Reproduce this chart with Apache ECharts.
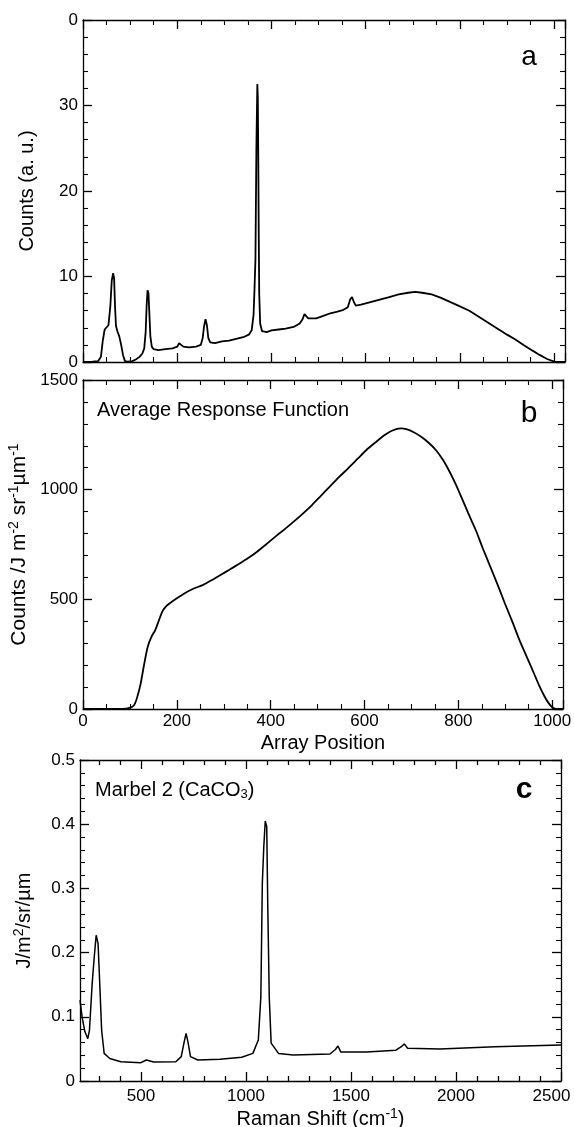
<!DOCTYPE html>
<html>
<head>
<meta charset="utf-8">
<script src="https://cdn.jsdelivr.net/npm/echarts@6/dist/echarts.min.js"></script>
<style>
html, body { margin: 0; padding: 0; background: #fff; }
#chart { width: 574px; height: 1127px; }
</style>
</head>
<body>
<div id="chart"></div>
<script>
// panel a: raw counts along the detector array
const posA = [0, 20, 32, 38, 42, 46, 50, 54, 58, 61, 64, 66, 68, 70, 73, 77, 81, 85, 89, 95,
  105, 112, 120, 126, 130, 133, 135, 137, 139, 141, 143, 146, 150, 160, 175, 190, 200, 204, 208, 213,
  225, 240, 250, 254, 257, 260, 263, 266, 270, 280, 295, 310, 325, 340, 352, 358, 362, 364, 366, 368,
  370, 371, 372, 373, 374, 376, 380, 390, 400, 415, 430, 447, 460, 466, 470, 474, 478, 482, 495, 510,
  525, 540, 553, 562, 567, 571, 575, 579, 590, 610, 630, 650, 670, 690, 705, 720, 740, 760, 780, 800,
  820, 840, 860, 880, 900, 916, 935, 955, 970, 985, 1000, 1010, 1023];
const countsA = [0, 0.05, 0.1, 0.6, 2.5, 3.8, 4.0, 4.3, 6.5, 9.5, 10.4, 9.8, 6.5, 4.2, 3.6, 3.0, 2.0, 0.8, 0.1, 0.05,
  0.1, 0.3, 0.6, 1.0, 1.6, 3.5, 6.5, 8.4, 8.0, 5.5, 3.0, 1.8, 1.5, 1.4, 1.5, 1.6, 1.8, 2.2, 2.1, 1.8,
  1.7, 1.8, 2.0, 2.8, 4.2, 5.0, 4.3, 2.8, 2.3, 2.2, 2.4, 2.5, 2.7, 2.9, 3.2, 3.7, 5.5, 8.5, 12, 25,
  32.5, 31, 24, 15, 8, 4.5, 3.6, 3.5, 3.7, 3.8, 3.9, 4.1, 4.5, 5.0, 5.6, 5.7, 5.1, 4.9, 5.1, 5.4,
  5.7, 5.9, 6.1, 6.4, 7.3, 7.6, 7.0, 6.6, 6.7, 7.0, 7.3, 7.6, 7.9, 8.1, 8.2, 8.1, 7.9, 7.5, 7.0, 6.5,
  6.0, 5.3, 4.6, 3.9, 3.2, 2.7, 2.0, 1.3, 0.8, 0.35, 0.05, 0.02, 0];

// panel b: average response function
const posB = [0, 50, 92, 105, 111, 117, 123, 130, 138, 146, 154, 162, 169, 177, 185, 200, 216, 235, 255, 275,
  293, 312, 332, 352, 371, 390, 410, 430, 449, 468, 488, 507, 526, 545, 565, 585, 604, 623, 643, 655,
  666, 678, 689, 705, 720, 736, 752, 768, 783, 795, 806, 821, 837, 852, 868, 884, 899, 915, 930, 946,
  961, 972, 984, 992, 1000, 1008, 1023];
const respB = [0, 0, 2, 10, 26, 65, 117, 200, 284, 330, 360, 405, 444, 468, 482, 505, 527, 548, 565, 588,
  611, 635, 661, 688, 717, 750, 786, 820, 854, 890, 930, 972, 1014, 1056, 1097, 1140, 1181, 1215, 1249, 1265,
  1275, 1279, 1276, 1262, 1242, 1215, 1181, 1133, 1075, 1022, 968, 893, 816, 733, 649, 565, 482, 398, 315, 237,
  163, 108, 56, 28, 8, 1, 0];

// panel c: calibrated marble spectrum
const shiftC = [210, 220, 233, 247, 255, 268, 278, 287, 296, 304, 313, 325, 352, 404, 500, 526, 561, 666, 692, 706,
  715, 724, 736, 771, 876, 980, 1033, 1059, 1071, 1078, 1085, 1092, 1099, 1104, 1111, 1120, 1155, 1225, 1400, 1426,
  1438, 1452, 1574, 1714, 1740, 1754, 1770, 1924, 2186, 2500];
const radC = [0.126, 0.1, 0.077, 0.066, 0.079, 0.152, 0.194, 0.227, 0.214, 0.152, 0.079, 0.043, 0.035, 0.030, 0.0286, 0.0327, 0.0296, 0.030, 0.038, 0.061,
  0.074, 0.061, 0.038, 0.0327, 0.034, 0.037, 0.043, 0.064, 0.131, 0.308, 0.365, 0.405, 0.396, 0.272, 0.131, 0.059, 0.043, 0.0405, 0.042, 0.049,
  0.0545, 0.045, 0.045, 0.048, 0.0535, 0.0576, 0.051, 0.050, 0.0535, 0.056];

const majorTicksC = [500, 1000, 1500, 2000, 2500];
const minorTicksC = [300, 400, 600, 700, 800, 900, 1100, 1200, 1300, 1400, 1600, 1700, 1800, 1900, 2100, 2200, 2300, 2400];

const FONT = 'Liberation Sans, Arial, Helvetica, sans-serif';
const INK = '#000';

function zip(xs, ys) {
  return xs.map((x, i) => [x, ys[i]]);
}

const plain = (v) => String(+v.toFixed(2));

function axis(extra) {
  const base = {
    type: 'value',
    axisLine: { show: true, onZero: false, lineStyle: { color: INK, width: 1.3 } },
    axisTick: { show: true, inside: true, length: 9, lineStyle: { color: INK, width: 1.3 } },
    minorTick: { show: true, length: 5, lineStyle: { color: INK, width: 1.1 } },
    splitLine: { show: false },
    minorSplitLine: { show: false },
    axisLabel: { show: false, color: INK, fontSize: 17, fontFamily: FONT, margin: 5, formatter: plain },
    nameTextStyle: { color: INK, fontSize: 20, fontFamily: FONT },
  };
  const out = Object.assign({}, base, extra);
  ['axisLine', 'axisTick', 'minorTick', 'axisLabel', 'nameTextStyle'].forEach((k) => {
    if (extra[k]) out[k] = Object.assign({}, base[k], extra[k]);
  });
  return out;
}

const sup = { fontSize: 14, fontFamily: FONT, color: INK, padding: [0, 0, 10, 0] };
const txt = { fontSize: 20, fontFamily: FONT, color: INK };

const chart = echarts.init(document.getElementById('chart'), null, { renderer: 'canvas' });

const option = {
  backgroundColor: '#fff',
  animation: false,
  grid: [
    { left: 83, top: 20, width: 482, height: 342, outerBoundsMode: 'none' },
    { left: 83, top: 380, width: 480, height: 329, outerBoundsMode: 'none' },
    { left: 80, top: 760, width: 481, height: 321, outerBoundsMode: 'none' },
  ],
  xAxis: [
    axis({ gridIndex: 0, position: 'bottom', min: 0, max: 1023, interval: 200, minorTick: { splitNumber: 4 } }),
    axis({ gridIndex: 0, position: 'top', min: 0, max: 1023, interval: 200, minorTick: { splitNumber: 4 } }),
    axis({
      gridIndex: 1, position: 'bottom', min: 0, max: 1023, interval: 200, minorTick: { splitNumber: 4 },
      axisLabel: { show: true, showMaxLabel: false, margin: 4 },
      name: 'Array Position', nameLocation: 'middle', nameGap: 24,
    }),
    axis({ gridIndex: 1, position: 'top', min: 0, max: 1023, interval: 200, minorTick: { splitNumber: 4 } }),
    axis({
      gridIndex: 2, position: 'bottom', min: 210, max: 2500,
      minorTick: { show: false },
      axisTick: { customValues: majorTicksC },
      axisLabel: {
        show: true, customValues: majorTicksC, margin: 7,
        formatter: (v) => (v === 2500 ? '{r|2500}' : String(v)),
        rich: { r: { fontSize: 17, fontFamily: FONT, color: INK, padding: [0, 19, 0, 0] } },
      },
      name: '{t|Raman Shift (cm}{s|-1}{t|)}', nameLocation: 'middle', nameGap: 26,
      nameTextStyle: { rich: { t: txt, s: sup } },
    }),
    axis({
      gridIndex: 2, position: 'bottom', min: 210, max: 2500,
      axisLine: { show: false }, minorTick: { show: false },
      axisTick: { customValues: minorTicksC, length: 5 },
    }),
    axis({
      gridIndex: 2, position: 'top', min: 210, max: 2500,
      minorTick: { show: false },
      axisTick: { customValues: majorTicksC },
    }),
    axis({
      gridIndex: 2, position: 'top', min: 210, max: 2500,
      axisLine: { show: false }, minorTick: { show: false },
      axisTick: { customValues: minorTicksC, length: 5 },
    }),
  ],
  yAxis: [
    axis({
      gridIndex: 0, position: 'left', min: 0, max: 40, interval: 10, minorTick: { splitNumber: 5 },
      axisLabel: { show: true, formatter: (v) => (v === 40 ? '0' : String(v)) },
      name: 'Counts (a. u.)', nameLocation: 'middle', nameGap: 46,
    }),
    axis({ gridIndex: 0, position: 'right', min: 0, max: 40, interval: 10, minorTick: { splitNumber: 5 } }),
    axis({
      gridIndex: 1, position: 'left', min: 0, max: 1500, interval: 500, minorTick: { splitNumber: 5 },
      axisLabel: { show: true },
      name: '{t|Counts /J m}{s|-2}{t| sr}{s|-1}{t|\u00b5m}{s|-1}', nameLocation: 'middle', nameGap: 24,
      nameTextStyle: { rich: { t: { fontSize: 21, fontFamily: FONT, color: INK }, s: sup } },
    }),
    axis({ gridIndex: 1, position: 'right', min: 0, max: 1500, interval: 500, minorTick: { splitNumber: 5 } }),
    axis({
      gridIndex: 2, position: 'left', min: 0, max: 0.5, interval: 0.1, minorTick: { splitNumber: 5 },
      axisLabel: { show: true },
      name: '{t|J/m}{s|2}{t|/sr/\u00b5m}', nameLocation: 'middle', nameGap: 44,
      nameTextStyle: { rich: { t: txt, s: sup } },
    }),
    axis({ gridIndex: 2, position: 'right', min: 0, max: 0.5, interval: 0.1, minorTick: { splitNumber: 5 } }),
  ],
  series: [
    {
      name: 'a', type: 'line', xAxisIndex: 0, yAxisIndex: 0, data: zip(posA, countsA),
      showSymbol: false, lineStyle: { color: INK, width: 1.8 }, silent: true,
    },
    {
      name: 'b', type: 'line', xAxisIndex: 2, yAxisIndex: 2, data: zip(posB, respB),
      showSymbol: false, smooth: 0.3, lineStyle: { color: INK, width: 1.8 }, silent: true,
    },
    {
      name: 'c', type: 'line', xAxisIndex: 4, yAxisIndex: 4, data: zip(shiftC, radC),
      showSymbol: false, lineStyle: { color: INK, width: 1.5 }, silent: true,
    },
  ],
  graphic: [
    { type: 'text', x: 529, y: 57, style: { text: 'a', fontSize: 28, fontFamily: FONT, fill: INK, align: 'center', verticalAlign: 'middle' } },
    { type: 'text', x: 529, y: 414, style: { text: 'b', fontSize: 30, fontFamily: FONT, fill: INK, align: 'center', verticalAlign: 'middle' } },
    { type: 'text', x: 524, y: 790, style: { text: 'c', fontSize: 30, fontWeight: 'bold', fontFamily: FONT, fill: INK, align: 'center', verticalAlign: 'middle' } },
    { type: 'text', x: 97, y: 410, style: { text: 'Average Response Function', fontSize: 20, fontFamily: FONT, fill: INK, align: 'left', verticalAlign: 'middle' } },
    {
      type: 'text', x: 95, y: 790,
      style: {
        text: '{t|Marbel 2 (CaCO}{s|3}{t|)}', fontFamily: FONT, fill: INK, align: 'left', verticalAlign: 'middle',
        rich: { t: { fontSize: 20, fontFamily: FONT, fill: INK }, s: { fontSize: 13, fontFamily: FONT, fill: INK, padding: [9, 0, 0, 0] } },
      },
    },
  ],
};

chart.setOption(option);
window.onresize = function () {
  chart.resize();
};
</script>
</body>
</html>
